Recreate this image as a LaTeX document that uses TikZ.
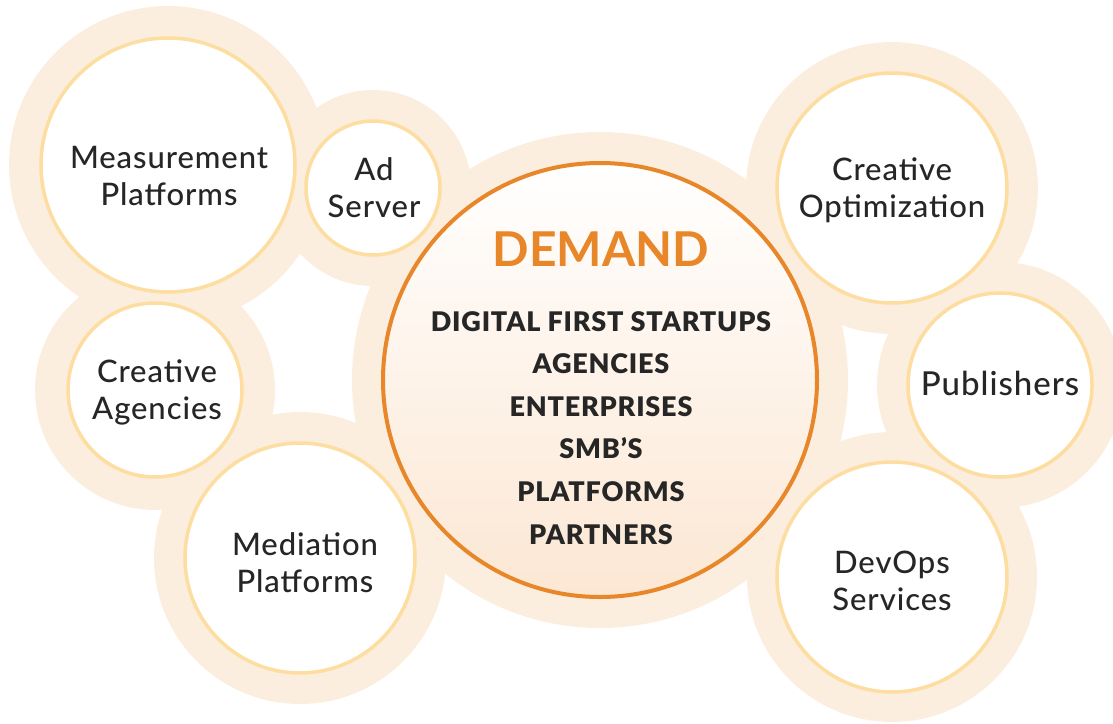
\documentclass[tikz,border=0pt]{standalone}
\usepackage{fontspec}
\setmainfont{Lato}
\newfontfamily\latomed[LetterSpace=3]{Lato Medium}
\newfontfamily\latoheavy[LetterSpace=3]{Lato Black}
\definecolor{haloCol}{HTML}{FCEEDF}
\definecolor{ringCol}{HTML}{FDDDA0}
\definecolor{orangeCol}{HTML}{E8872A}
\definecolor{demBot}{HTML}{FCE7D3}
\definecolor{inkCol}{HTML}{262626}
\begin{document}
\begin{tikzpicture}[x=1pt,y=-1pt,
  halo/.style={circle, fill=haloCol, inner sep=0pt, outer sep=0pt, minimum size=#1},
  bubble/.style={circle, fill=white, draw=ringCol, line width=3.5pt, inner sep=0pt, outer sep=0pt, minimum size=#1},
  lbl/.style={anchor=base, text=inkCol, inner sep=0pt, font=\latomed\fontsize{31}{37}\selectfont},
  demlist/.style={anchor=base, text=inkCol, inner sep=0pt, font=\latoheavy\fontsize{27}{42.6}\selectfont},
  demtitle/.style={anchor=base, text=orangeCol, inner sep=0pt, font=\bfseries\fontsize{48}{48}\selectfont}]
\useasboundingbox (0,0) rectangle (1113,723);
\clip (0,0) rectangle (1113,723);
% halos
\node[halo=318] (measH) at (168,165) {};
\node[halo=196] (adH) at (373,188) {};
\node[halo=496] (demH) at (600,380) {};
\node[halo=292] (coH) at (892,188) {};
\node[halo=246] (pubH) at (1000,385) {};
\node[halo=290] (devH) at (892,577) {};
\node[halo=240] (caH) at (155,390) {};
\node[halo=292] (medH) at (300,558) {};
% bubbles
\node[bubble=254] (meas) at (168,165) {};
\node[bubble=134] (ad) at (373,188) {};
\node[bubble=230] (co) at (892,188) {};
\node[bubble=184] (pub) at (1000,385) {};
\node[bubble=230] (dev) at (892,577) {};
\node[bubble=174] (ca) at (155,390) {};
\node[bubble=230] (med) at (300,558) {};
% demand
\node[circle, minimum size=434, inner sep=0pt, draw=orangeCol, line width=4pt,
      top color=white, bottom color=demBot] (dem) at (600,380) {};
% labels
\node[lbl] (measT) at (169,168) {\begin{tabular}[t]{@{}c@{}}Measurement\\Platforms\end{tabular}};
\node[lbl] (adT) at (374,180) {\begin{tabular}[t]{@{}c@{}}Ad\\Server\end{tabular}};
\node[lbl] (coT) at (892,180.5) {\begin{tabular}[t]{@{}c@{}}Creative\\Optimization\end{tabular}};
\node[lbl, font=\latomed\fontsize{33}{37}\selectfont] (pubT) at (1000,395) {Publishers};
\node[lbl] (devT) at (892,573) {\begin{tabular}[t]{@{}c@{}}DevOps\\Services\end{tabular}};
\node[lbl] (caT) at (157,382) {\begin{tabular}[t]{@{}c@{}}Creative\\Agencies\end{tabular}};
\node[lbl] (medT) at (305,555) {\begin{tabular}[t]{@{}c@{}}Mediation\\Platforms\end{tabular}};
\node[demtitle] (demT) at (601,266) {DEMAND};
\node[demlist] (demL) at (601,331) {\begin{tabular}[t]{@{}c@{}}DIGITAL FIRST STARTUPS\\AGENCIES\\ENTERPRISES\\SMB’S\\PLATFORMS\\PARTNERS\end{tabular}};
\end{tikzpicture}
\end{document}
